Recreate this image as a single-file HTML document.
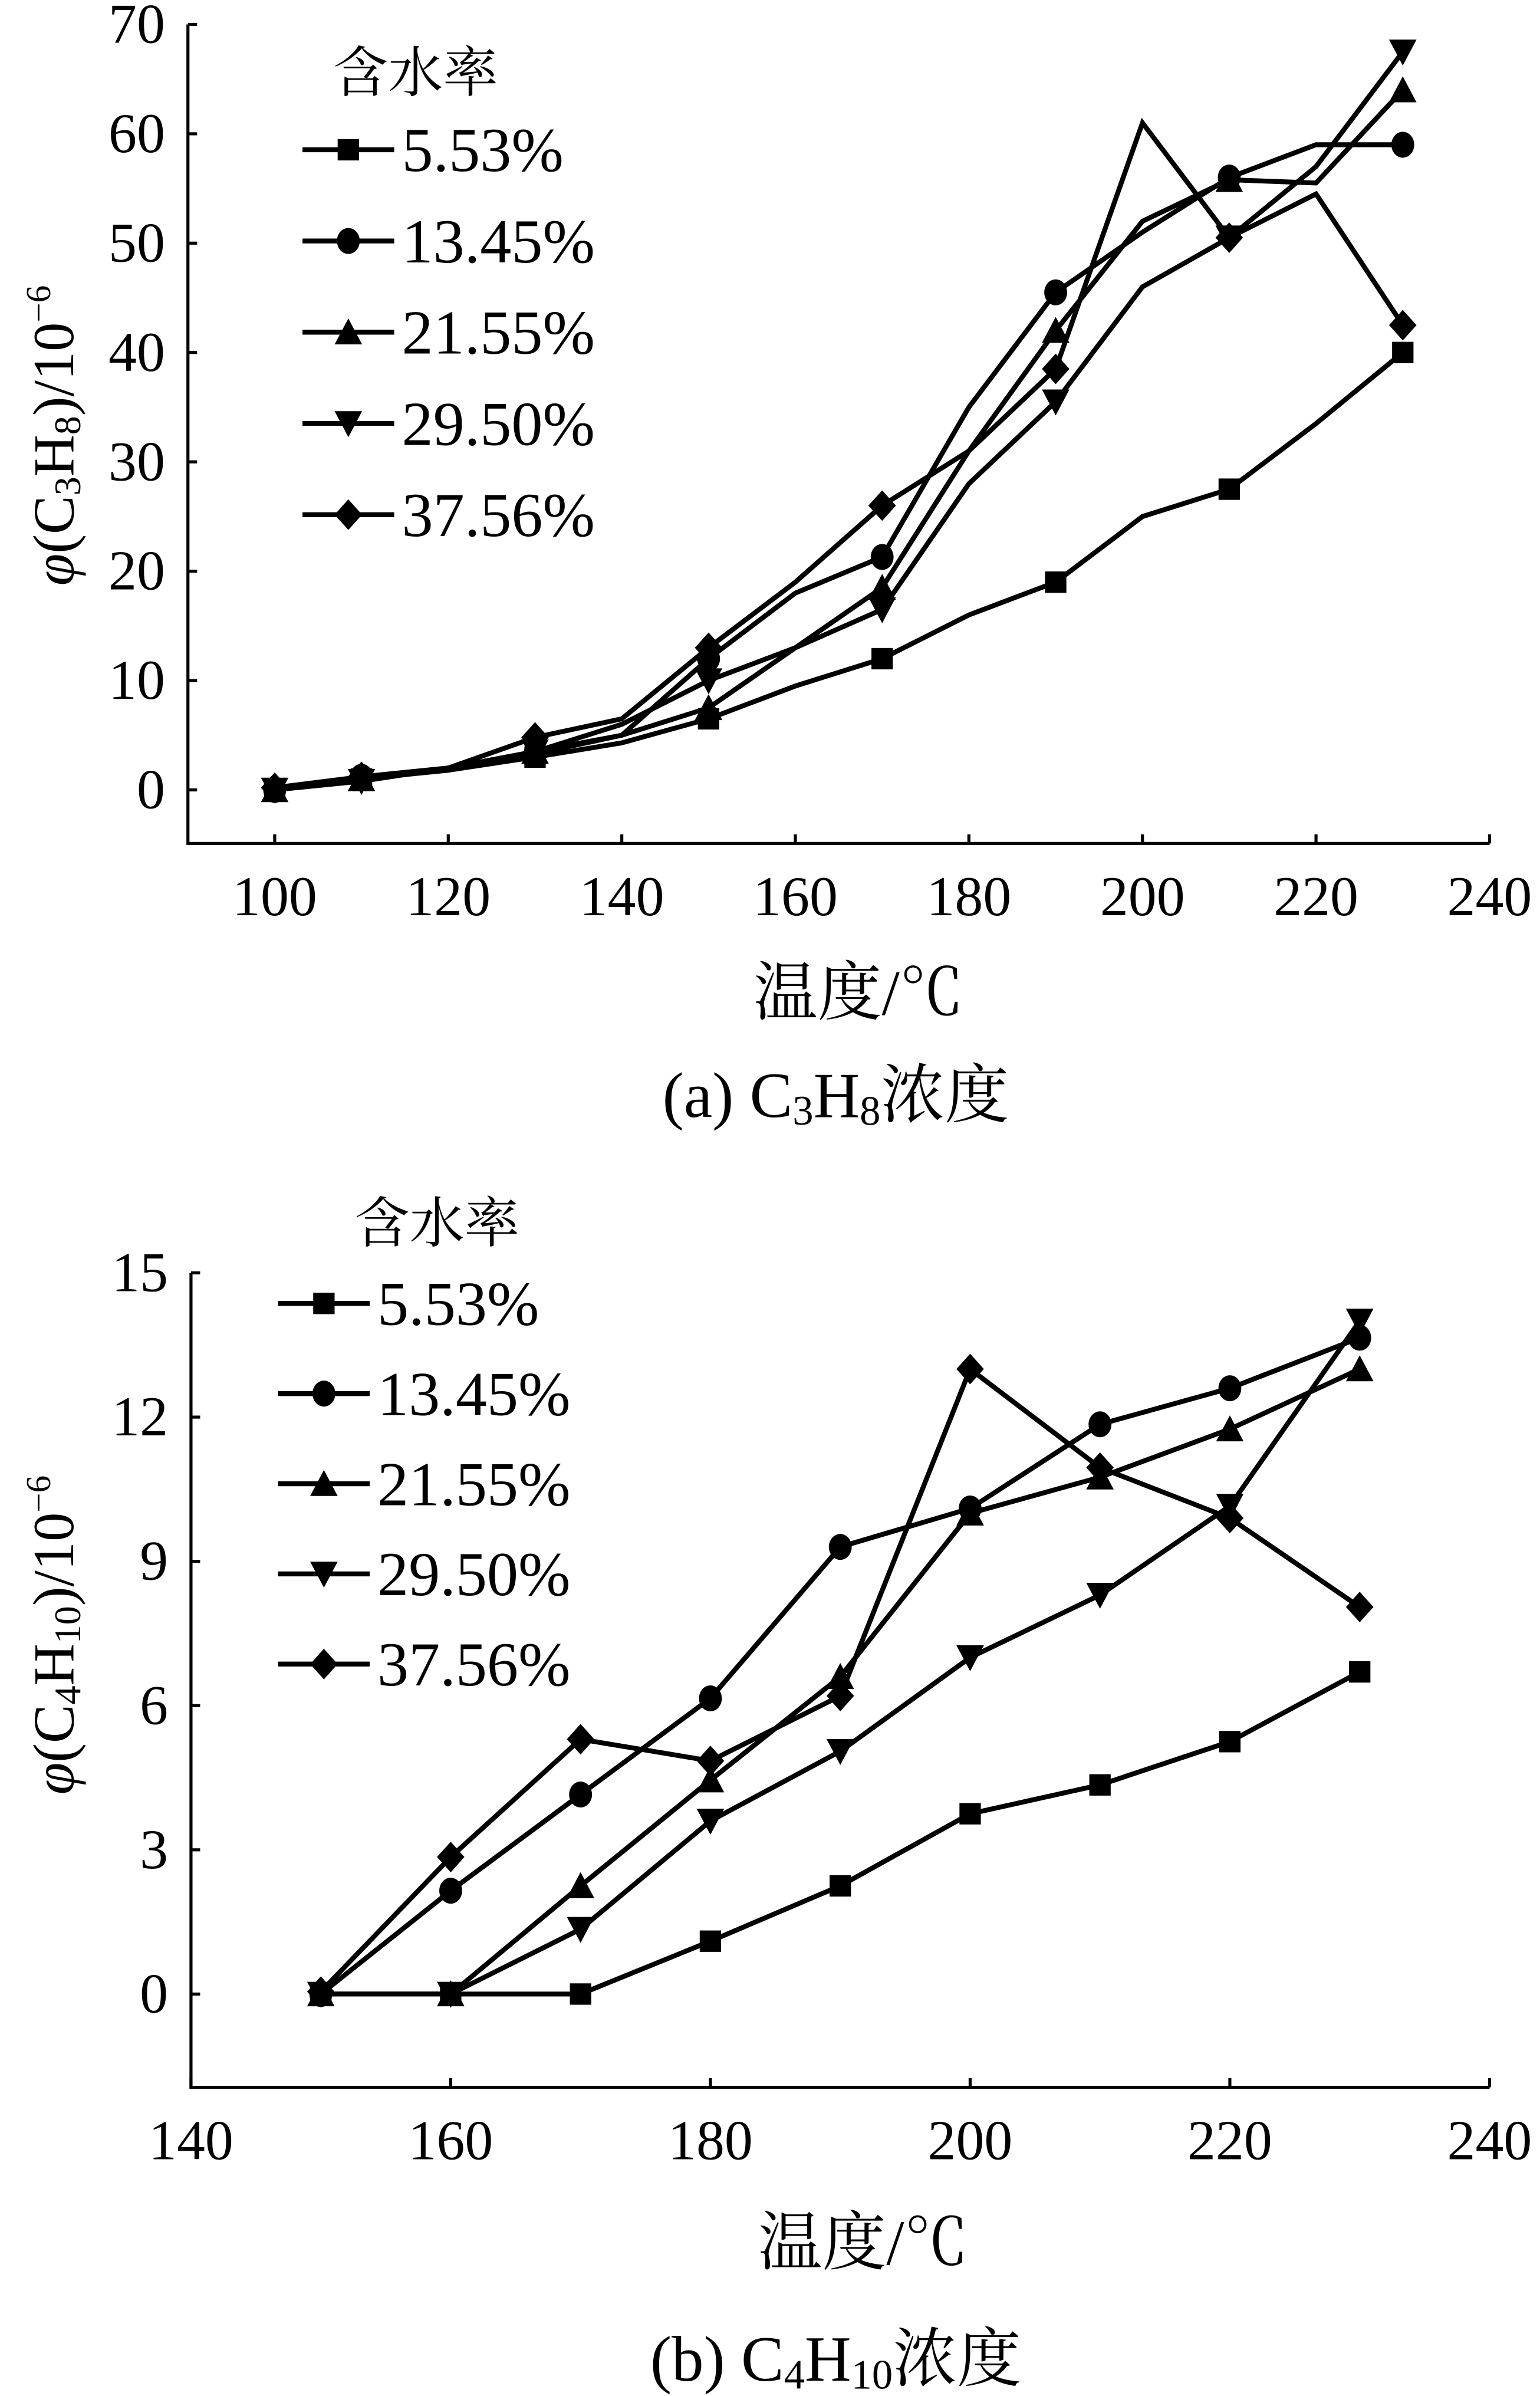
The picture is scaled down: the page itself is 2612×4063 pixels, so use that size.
<!DOCTYPE html>
<html><head><meta charset="utf-8"><style>
html,body{margin:0;padding:0;background:#fff;}
svg{display:block;}
text{font-family:"Liberation Serif","Noto Serif CJK SC","Noto Sans CJK SC",serif;fill:#000;}
</style></head><body>
<svg id="chart" width="2612" height="4063" viewBox="0 0 1008 1568" xmlns="http://www.w3.org/2000/svg">
<g id="pa"></g>
<g id="pb"></g>
</svg>
<script>
const seriesNames = ["5.53%","13.45%","21.55%","29.50%","37.56%"];
const markerTypes = ["square","circle","triangle","tri-down","diamond"];
// chart a
const aX = [100,110,120,130,140,150,160,170,180,190,200,210,220,230];
const aMarkerX = [100,110,130,150,170,190,210,230];
const a553 = [0,1,1.8,3,4.3,6.5,9.5,12,16,19,25,27.5,33.5,40];
const a1345 = [0,1.2,2,3.3,5,12,18,21.3,35,45.5,51,56,59,59];
const a2155 = [0,1,2,3.5,5,7.5,13,18.5,31,42,52,55.8,55.5,64];
const a2950 = [0,0.8,2,3.5,6,10,13,16.5,28,35.5,46,50.5,57,67.5];
const a3756 = [0.2,1.2,2,4.8,6.5,13,19,26,31,38.5,61,50.5,54.5,42.5];
const aXTicks = [100,120,140,160,180,200,220,240];
const aYTicks = [0,10,20,30,40,50,60,70];
// chart b
const bX = [150,160,170,180,190,200,210,220,230];
const b553 = [0,0,0,1.1,2.25,3.75,4.35,5.25,6.7];
const b1345 = [0,2.15,4.15,6.15,9.3,10.1,11.85,12.6,13.65];
const b2155 = [0,0,2.25,4.45,6.6,10.0,10.75,11.75,13.0];
const b2950 = [0,0,1.35,3.6,5.05,7.0,8.3,10.15,14.0];
const b3756 = [0.05,2.85,5.3,4.85,6.2,13.0,10.95,9.9,8.05];
const bXTicks = [140,160,180,200,220,240];
const bYTicks = [0,3,6,9,12,15];

const NS="http://www.w3.org/2000/svg";
function mk(parent,tag,attrs){const e=document.createElementNS(NS,tag);for(const k in attrs)e.setAttribute(k,attrs[k]);parent.appendChild(e);return e;}
function marker(g,type,x,y){
  const s=7.5;let e;
  if(type==="square"){e=mk(g,"rect",{x:x-s+0.5,y:y-s+0.5,width:2*s-1,height:2*s-1,fill:"#000"});}
  else if(type==="circle"){e=mk(g,"ellipse",{cx:x,cy:y,rx:7.5,ry:8.5,fill:"#000"});}
  else if(type==="triangle"){e=mk(g,"polygon",{points:`${x},${y-9} ${x-9},${y+8} ${x+9},${y+8}`,fill:"#000"});}
  else if(type==="tri-down"){e=mk(g,"polygon",{points:`${x},${y+9} ${x-9},${y-8} ${x+9},${y-8}`,fill:"#000"});}
  else {e=mk(g,"polygon",{points:`${x},${y-10} ${x+9},${y} ${x},${y+10} ${x-9},${y}`,fill:"#000"});}
  
  
}
function txt(g,x,y,s,size,anchor,name){const t=mk(g,"text",{x:x,y:y,"font-size":size,"text-anchor":anchor||"middle"});t.textContent=s;
  
  
  return t;}

function drawChart(g,cfg){
  const {x0,x1,y0,y1,xmin,xmax,ymin,ymax,xs,series,markerX,xTicks,yTicks}=cfg;
  const sx=v=>x0+(v-xmin)/(xmax-xmin)*(x1-x0);
  const sy=v=>y0-(v-ymin)/(ymax-ymin)*(y0-y1);
  const axes=mk(g,"path",{d:`M${x0},${y1} L${x0},${y0} L${x1},${y0}`,stroke:"#000","stroke-width":2,fill:"none"});
  
  
  xTicks.forEach(v=>{const X=sx(v);
    const t=mk(g,"line",{x1:X,y1:y0,x2:X,y2:y0-6,stroke:"#000","stroke-width":2});
    
    
    txt(g,X,y0+47,String(v),37,"middle","x-tick-label");});
  yTicks.forEach(v=>{const Y=sy(v);
    const t=mk(g,"line",{x1:x0,y1:Y,x2:x0+6,y2:Y,stroke:"#000","stroke-width":2});
    
    
    txt(g,x0-15,Y+12,String(v),37,"end","y-tick-label");});
  series.forEach((arr,i)=>{
    const d=arr.map((v,j)=>(j?"L":"M")+sx(xs[j])+","+sy(v)).join(" ");
    const p=mk(g,"path",{d:d,stroke:"#000","stroke-width":3.2,fill:"none","stroke-linejoin":"miter"});
    
    
    arr.forEach((v,j)=>{ if(markerX.indexOf(xs[j])>=0) marker(g,markerTypes[i],sx(xs[j]),sy(v)); });
  });
  const L=cfg.legend;
  txt(g,L.tx,L.ty,"含水率",36,"start","legend-title");
  seriesNames.forEach((n,i)=>{const y=L.y0+i*L.dy;
    const l=mk(g,"line",{x1:L.lx0,y1:y,x2:L.lx1,y2:y,stroke:"#000","stroke-width":3.2});
    
    
    marker(g,markerTypes[i],(L.lx0+L.lx1)/2,y);
    txt(g,L.lx1+5,y+14,n,41,"start","legend-entry");});
}
drawChart(document.getElementById("pa"),{x0:123,x1:975,y0:552,y1:16,xmin:90,xmax:240,ymin:-4.9,ymax:70,
  xs:aX,series:[a553,a1345,a2155,a2950,a3756],markerX:aMarkerX,xTicks:aXTicks,yTicks:aYTicks,
  legend:{tx:218,ty:60,y0:98,dy:59.7,lx0:198,lx1:258}});
drawChart(document.getElementById("pb"),{x0:125,x1:975,y0:1366,y1:833,xmin:140,xmax:240,ymin:-1.94,ymax:15,
  xs:bX,series:[b553,b1345,b2155,b2950,b3756],markerX:bX,xTicks:bXTicks,yTicks:bYTicks,
  legend:{tx:232,ty:813,y0:853,dy:59,lx0:182,lx1:242}});
const svg=document.getElementById("chart");
function rich(x,y,parts,size,rot,name){
  const t=mk(svg,"text",{x:x,y:y,"font-size":size,"text-anchor":"middle"});
  if(rot) t.setAttribute("transform",`rotate(-90 ${x} ${y})`);
  parts.forEach(p=>{const s=mk(t,"tspan",{});s.textContent=p[0];
    if(p[1]==="sub"){s.setAttribute("font-size",size*0.65);s.setAttribute("dy",size*0.12);}
    if(p[1]==="sup"){s.setAttribute("font-size",size*0.6);s.setAttribute("dy",-size*0.4);}
    if(p[1]==="base"){s.setAttribute("dy",p[2]);}
    if(p[1]==="it"){s.setAttribute("font-style","italic");}});
  
  
}
rich(48,285,[["φ","it"],["(C"],["3","sub"],["H","base",-4.6],["8","sub"],[")/10","base",-4.6],["−6","sup"]],38,true,"y-axis-title-a");
rich(562,664,[["温度/℃"]],42,false,"x-axis-title-a");
rich(547,731,[["(a)  C"],["3","sub"],["H","base",-5],["8","sub"],["浓度","base",-5]],42,false,"caption-a");
rich(48,1070,[["φ","it"],["(C"],["4","sub"],["H","base",-4.6],["10","sub"],[")/10","base",-4.6],["−6","sup"]],38,true,"y-axis-title-b");
rich(565,1482,[["温度/℃"]],42,false,"x-axis-title-b");
rich(547,1558,[["(b)  C"],["4","sub"],["H","base",-5],["10","sub"],["浓度","base",-5]],42,false,"caption-b");
</script>
</body></html>
